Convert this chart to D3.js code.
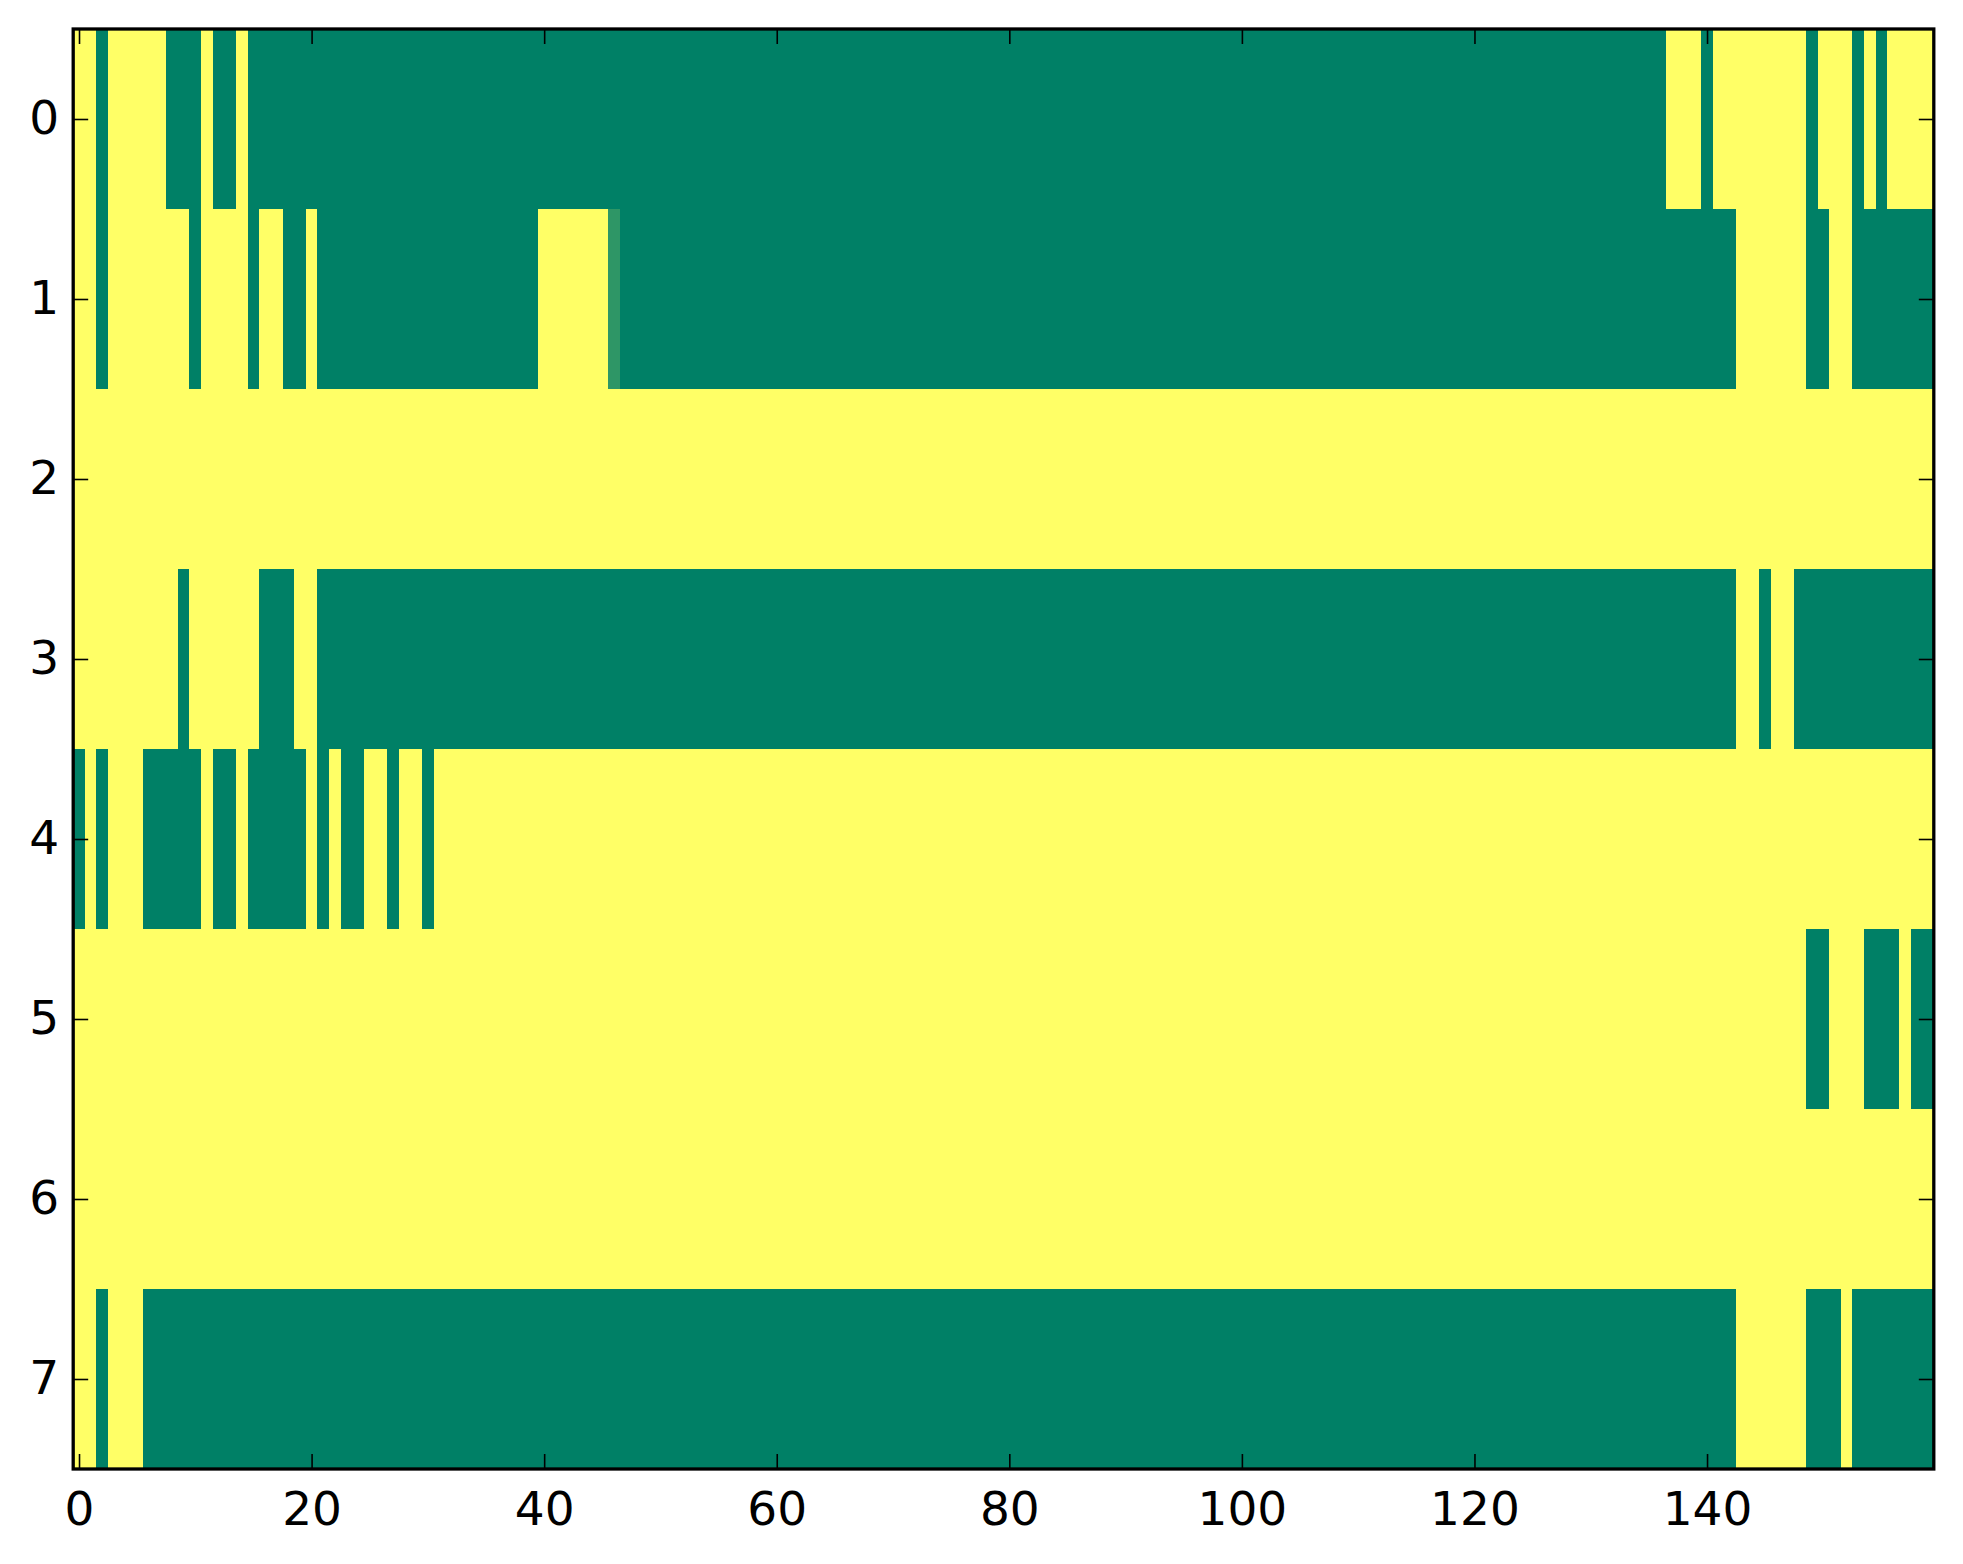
<!DOCTYPE html>
<html>
<head>
<meta charset="utf-8">
<script src="https://cdn.jsdelivr.net/npm/d3@7"></script>
<style>
  html, body { margin: 0; padding: 0; background: #ffffff; }
  svg { display: block; }
  .tick text { font-family: "DejaVu Sans", sans-serif; }
</style>
</head>
<body>
<svg id="chart" width="1963" height="1564"></svg>
<script>
// ---- Data (0 = low, 1 = high), 8 rows x 160 columns, written in groups of 10 ----
const row0 = "1101111100 0100100000 0000000000 0000000000 0000000000 0000000000 0000000000 0000000000 0000000000 0000000000 0000000000 0000000000 0000000000 0000000111 0111111110 1110101111";
const row1 = "1101111111 0111101100 1000000000 0000000000 1111110000 0000000000 0000000000 0000000000 0000000000 0000000000 0000000000 0000000000 0000000000 0000000000 0001111110 0110000000";
const row2 = "1111111111 1111111111 1111111111 1111111111 1111111111 1111111111 1111111111 1111111111 1111111111 1111111111 1111111111 1111111111 1111111111 1111111111 1111111111 1111111111";
const row3 = "1111111110 1111110001 1000000000 0000000000 0000000000 0000000000 0000000000 0000000000 0000000000 0000000000 0000000000 0000000000 0000000000 0000000000 0001101100 0000000000";
const row4 = "0101110000 0100100000 1010011011 0111111111 1111111111 1111111111 1111111111 1111111111 1111111111 1111111111 1111111111 1111111111 1111111111 1111111111 1111111111 1111111111";
const row5 = "1111111111 1111111111 1111111111 1111111111 1111111111 1111111111 1111111111 1111111111 1111111111 1111111111 1111111111 1111111111 1111111111 1111111111 1111111110 0111000100";
const row6 = "1111111111 1111111111 1111111111 1111111111 1111111111 1111111111 1111111111 1111111111 1111111111 1111111111 1111111111 1111111111 1111111111 1111111111 1111111111 1111111111";
const row7 = "1101110000 0000000000 0000000000 0000000000 0000000000 0000000000 0000000000 0000000000 0000000000 0000000000 0000000000 0000000000 0000000000 0000000000 0001111110 0010000000";
// cells with an intermediate value
const partialCells = [{ row: 1, col: 46, value: 0.18 }];

const rowStrings = [row0, row1, row2, row3, row4, row5, row6, row7];
const xTickValues = [0, 20, 40, 60, 80, 100, 120, 140];
const yTickValues = [0, 1, 2, 3, 4, 5, 6, 7];

// ---- Build cells ----
const cells = [];
rowStrings.forEach((s, r) => {
  const digits = s.replace(/\s+/g, "");
  for (let c = 0; c < digits.length; c++) cells.push({ row: r, col: c, value: +digits[c] });
});
partialCells.forEach(p => {
  const cell = cells.find(d => d.row === p.row && d.col === p.col);
  if (cell) cell.value = p.value;
});
const nCols = rowStrings[0].replace(/\s+/g, "").length;
const nRows = rowStrings.length;

// ---- Layout ----
const svg = d3.select("#chart");
const plotLeft = 73.2, plotRight = 1933.8, plotTop = 29, plotBottom = 1469;

const x = d3.scaleLinear().domain([-0.5, nCols - 0.5]).range([plotLeft, plotRight]);
const y = d3.scaleLinear().domain([-0.5, nRows - 0.5]).range([plotTop, plotBottom]);

// summer colormap: (v, 0.5 + v/2, 0.4)
const color = v => d3.rgb(255 * v, 255 * (0.5 + v / 2), 0.4 * 255).toString();

svg.append("g")
  .attr("shape-rendering", "crispEdges")
  .selectAll("rect")
  .data(cells)
  .join("rect")
  .attr("x", d => x(d.col - 0.5))
  .attr("y", d => y(d.row - 0.5))
  .attr("width", d => x(d.col + 0.5) - x(d.col - 0.5) + 0.3)
  .attr("height", d => y(d.row + 0.5) - y(d.row - 0.5) + 0.3)
  .attr("fill", d => color(d.value));

const tickLen = 15;
const fontSize = 47;

const gx = svg.append("g").attr("transform", `translate(0,${plotBottom})`)
  .call(d3.axisBottom(x).tickValues(xTickValues).tickSizeInner(-tickLen).tickSizeOuter(0).tickPadding(23).tickFormat(d3.format("d")));
const gxt = svg.append("g").attr("transform", `translate(0,${plotTop})`)
  .call(d3.axisTop(x).tickValues(xTickValues).tickSizeInner(-tickLen).tickSizeOuter(0).tickFormat(""));
const gy = svg.append("g").attr("transform", `translate(${plotLeft},0)`)
  .call(d3.axisLeft(y).tickValues(yTickValues).tickSizeInner(-tickLen).tickSizeOuter(0).tickPadding(14).tickFormat(d3.format("d")));
const gyr = svg.append("g").attr("transform", `translate(${plotRight},0)`)
  .call(d3.axisRight(y).tickValues(yTickValues).tickSizeInner(-tickLen).tickSizeOuter(0).tickFormat(""));

[gx, gxt, gy, gyr].forEach(g => {
  g.select(".domain").remove();
  g.selectAll(".tick line").attr("stroke", "#000").attr("stroke-width", 1.6);
  g.selectAll(".tick text").attr("fill", "#000").style("font-size", fontSize + "px");
});
gy.selectAll(".tick text").attr("dy", "0.3em");

// frame
svg.append("rect")
  .attr("x", plotLeft).attr("y", plotTop)
  .attr("width", plotRight - plotLeft).attr("height", plotBottom - plotTop)
  .attr("fill", "none").attr("stroke", "#000").attr("stroke-width", 3.3);
</script>
</body>
</html>
